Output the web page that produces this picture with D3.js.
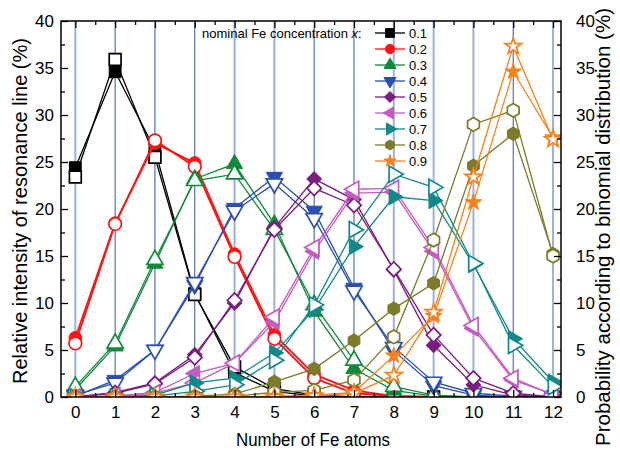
<!DOCTYPE html>
<html><head><meta charset="utf-8">
<script src="https://cdn.jsdelivr.net/npm/d3@7"></script>
<style>body{margin:0;background:#fff} text{font-family:"Liberation Sans",Arial,sans-serif;}</style>
</head><body>
<svg id="c" width="620" height="454"></svg>
<script>
// ---------- data ----------
const atoms = [0,1,2,3,4,5,6,7,8,9,10,11,12];
const concentrations = ["0.1","0.2","0.3","0.4","0.5","0.6","0.7","0.8","0.9"];
// experimental (filled symbols, left axis)
const exp01 = [24.4, 34.6, 26.3, 11.0, 2.6, 0.6, 0.1, 0, 0, 0, 0, 0, 0];
const exp02 = [6.3, 18.5, 27.0, 24.9, 15.2, 6.6, 2.4, 0.7, 0.1, 0, 0, 0, 0];
const exp03 = [0.8, 5.4, 14.2, 23.2, 24.8, 18.4, 9.1, 3.0, 0.7, 0.1, 0, 0, 0];
const exp04 = [0.1, 1.8, 5.0, 11.9, 20.1, 23.4, 19.8, 11.6, 4.9, 1.2, 0.2, 0, 0];
const exp05 = [0, 0.5, 1.5, 4.5, 10.0, 18.0, 23.2, 21.0, 13.5, 5.5, 1.3, 0.2, 0];
const exp06 = [0, 0.1, 0.5, 2.5, 3.6, 8.0, 15.5, 21.7, 21.8, 15.5, 7.3, 1.8, 0.3];
const exp07 = [0, 0, 0.2, 1.5, 2.0, 4.7, 9.3, 16.0, 21.3, 20.9, 14.1, 6.2, 1.6];
const exp08 = [0, 0, 0, 0.1, 0.3, 1.6, 3.0, 6.0, 9.4, 12.1, 24.6, 28.0, 15.2];
const exp09 = [0, 0, 0, 0, 0, 0.1, 0.2, 0.5, 4.4, 8.6, 20.7, 34.6, 27.6];
// binomial probability (open symbols, right axis)
const bin01 = [23.4, 35.9, 25.5, 10.9, 3.2, 0.9, 0.2, 0, 0, 0, 0, 0, 0];
const bin02 = [5.7, 18.4, 27.3, 24.5, 14.9, 6.2, 2.0, 0.4, 0.1, 0, 0, 0, 0];
const bin03 = [1.1, 5.7, 14.6, 23.0, 23.7, 17.8, 9.8, 3.9, 1.1, 0.2, 0, 0, 0];
const bin04 = [0.2, 1.5, 5.0, 12.2, 19.8, 22.7, 19.0, 11.3, 5.3, 1.6, 0.4, 0.1, 0];
const bin05 = [0, 0.4, 1.4, 4.2, 10.3, 17.8, 22.2, 20.4, 13.6, 6.6, 2.0, 0.4, 0];
const bin06 = [0, 0.1, 0.4, 1.5, 3.6, 8.5, 15.9, 22.1, 22.2, 15.9, 7.6, 2.0, 0.2];
const bin07 = [0, 0, 0.1, 0.6, 1.3, 3.9, 9.8, 17.8, 23.7, 22.3, 14.2, 5.5, 1.1];
const bin08 = [0, 0, 0, 0, 0.1, 0.5, 0.7, 1.8, 6.4, 16.7, 29.0, 30.5, 15.0];
const bin09 = [0, 0, 0, 0, 0, 0, 0.1, 0.4, 2.3, 9.0, 23.4, 37.3, 27.4];
const xTickLabels = ["0","1","2","3","4","5","6","7","8","9","10","11","12"];
const yTickValues = [0,5,10,15,20,25,30,35,40];

const expSeries = [exp01,exp02,exp03,exp04,exp05,exp06,exp07,exp08,exp09];
const binSeries = [bin01,bin02,bin03,bin04,bin05,bin06,bin07,bin08,bin09];

// ---------- style ----------
const colors = ["#000000","#ff1414","#12893b","#2b4fb0","#7a1e80","#c45bc0","#11898a","#7b7b2a","#f7821b"];
const lineWidths = [1.3, 1.8, 1.3, 1.3, 1.3, 1.3, 1.3, 1.3, 1.3];
const L = 61, R = 561, T = 21, B = 397;

const svg = d3.select("#c");
const x = d3.scaleLinear().domain([-0.36, 12.2]).range([L, R]);
const yL = d3.scaleLinear().domain([0, 40]).range([B, T]);
const yR = d3.scaleLinear().domain([0, 40]).range([B, T]);

// vertical grid lines (mixed light/dark blue)
const lightLines = new Set([0,4,5,8,9,10,12]);
svg.append("g").selectAll("line").data(atoms).join("line")
  .attr("x1", d => x(d)).attr("x2", d => x(d))
  .attr("y1", B).attr("y2", T)
  .attr("stroke", d => lightLines.has(d) ? "#9fb0dc" : "#34559f")
  .attr("stroke-width", d => lightLines.has(d) ? 2 : 1);

// symbols
const hexagon = { draw(ctx, size) {
  const r = Math.sqrt(2 * size / (3 * Math.sqrt(3)));
  for (let i = 0; i < 6; i++) {
    const a = -Math.PI / 2 + i * Math.PI / 3;
    if (i === 0) ctx.moveTo(r * Math.cos(a), r * Math.sin(a)); else ctx.lineTo(r * Math.cos(a), r * Math.sin(a));
  }
  ctx.closePath();
}};
const markers = [
  {type: d3.symbolSquare, rot: 0, size: 140},
  {type: d3.symbolCircle, rot: 0, size: 125},
  {type: d3.symbolTriangle, rot: 0, size: 115},
  {type: d3.symbolTriangle, rot: 180, size: 115},
  {type: d3.symbolSquare, rot: 45, size: 105},
  {type: d3.symbolTriangle, rot: -90, size: 115},
  {type: d3.symbolTriangle, rot: 90, size: 115},
  {type: hexagon, rot: 0, size: 120},
  {type: d3.symbolStar, rot: 0, size: 85}
];

svg.append("defs").append("clipPath").attr("id", "clip")
  .append("rect").attr("x", L).attr("y", T).attr("width", R - L).attr("height", B - T);

const plot = svg.append("g").attr("clip-path", "url(#clip)");

expSeries.forEach((ev, si) => {
  const bv = binSeries[si];
  const col = colors[si];
  const m = markers[si];
  const sym = d3.symbol().type(m.type).size(m.size);
  const g = plot.append("g");
  const lineE = d3.line().x((d, i) => x(atoms[i])).y(d => yL(d));
  const lineB = d3.line().x((d, i) => x(atoms[i])).y(d => yR(d));
  g.append("path").attr("d", lineE(ev)).attr("fill", "none").attr("stroke", col).attr("stroke-width", lineWidths[si]);
  g.append("path").attr("d", lineB(bv)).attr("fill", "none").attr("stroke", col).attr("stroke-width", lineWidths[si]);
  g.selectAll(".e").data(ev).join("path")
    .attr("d", sym())
    .attr("transform", (d, i) => `translate(${x(atoms[i])},${yL(d)}) rotate(${m.rot})`)
    .attr("fill", col).attr("stroke", col).attr("stroke-width", 1);
  g.selectAll(".b").data(bv).join("path")
    .attr("d", sym())
    .attr("transform", (d, i) => `translate(${x(atoms[i])},${yR(d)}) rotate(${m.rot})`)
    .attr("fill", "#fff").attr("stroke", col).attr("stroke-width", 1.7);
});

// frame
svg.append("rect").attr("x", L).attr("y", T).attr("width", R - L).attr("height", B - T)
  .attr("fill", "none").attr("stroke", "#000").attr("stroke-width", 1.5);

// axes
const fontTick = 17;
const halfTicks = atoms.slice(0, 12).map(d => d + 0.5);
const minorY = yTickValues.slice(0, 8).map(d => d + 2.5);

function styleAxis(g) {
  g.select(".domain").remove();
  g.selectAll("line").attr("stroke", "#000").attr("stroke-width", 1.3);
  g.selectAll("text").attr("font-size", fontTick).attr("fill", "#000")
    .style("font-family", '"Liberation Sans",Arial,sans-serif');
}
svg.append("g").attr("transform", `translate(0,${B})`)
  .call(d3.axisBottom(x).tickValues(atoms).tickFormat((d, i) => xTickLabels[i]).tickSize(-7).tickPadding(9)).call(styleAxis);
svg.append("g").attr("transform", `translate(0,${B})`)
  .call(d3.axisBottom(x).tickValues(halfTicks).tickFormat("").tickSize(-4)).call(styleAxis);
svg.append("g").attr("transform", `translate(0,${T})`)
  .call(d3.axisTop(x).tickValues(atoms).tickFormat("").tickSize(-7)).call(styleAxis);
svg.append("g").attr("transform", `translate(0,${T})`)
  .call(d3.axisTop(x).tickValues(halfTicks).tickFormat("").tickSize(-4)).call(styleAxis);
svg.append("g").attr("transform", `translate(${L},0)`)
  .call(d3.axisLeft(yL).tickValues(yTickValues).tickFormat(d3.format("d")).tickSize(-7).tickPadding(7)).call(styleAxis);
svg.append("g").attr("transform", `translate(${L},0)`)
  .call(d3.axisLeft(yL).tickValues(minorY).tickFormat("").tickSize(-4)).call(styleAxis);
svg.append("g").attr("transform", `translate(${R},0)`)
  .call(d3.axisRight(yR).tickValues(yTickValues).tickFormat(d3.format("d")).tickSize(-7).tickPadding(15)).call(styleAxis);
svg.append("g").attr("transform", `translate(${R},0)`)
  .call(d3.axisRight(yR).tickValues(minorY).tickFormat("").tickSize(-4)).call(styleAxis);

// titles
const fontTitle = 19.5;
svg.append("text").attr("x", 313).attr("y", 446).attr("text-anchor", "middle")
  .attr("font-size", 18).attr("textLength", 154).attr("lengthAdjust", "spacingAndGlyphs")
  .text("Number of Fe atoms");
svg.append("text").attr("transform", `translate(27,211) rotate(-90)`).attr("text-anchor", "middle")
  .attr("font-size", fontTitle).attr("textLength", 346).attr("lengthAdjust", "spacingAndGlyphs")
  .text("Relative intensity of resonance line (%)");
svg.append("text").attr("transform", `translate(610,227) rotate(-90)`).attr("text-anchor", "middle")
  .attr("font-size", fontTitle).attr("textLength", 438).attr("lengthAdjust", "spacingAndGlyphs")
  .text("Probability according to binomial distribution (%)");

// legend
const lt = svg.append("text").attr("x", 202).attr("y", 37.5).attr("font-size", 13);
lt.append("tspan").text("nominal Fe concentration ");
lt.append("tspan").attr("font-style", "italic").text("x");
lt.append("tspan").text(":");
concentrations.forEach((c, i) => {
  const yy = 33 + 16 * i;
  const m = markers[i];
  svg.append("line").attr("x1", 375).attr("x2", 405).attr("y1", yy).attr("y2", yy)
    .attr("stroke", colors[i]).attr("stroke-width", 1.3);
  svg.append("path").attr("d", d3.symbol().type(m.type).size(m.size * 0.55)())
    .attr("transform", `translate(390,${yy}) rotate(${m.rot})`)
    .attr("fill", colors[i]).attr("stroke", colors[i]);
  svg.append("text").attr("x", 409).attr("y", yy + 4.8).attr("font-size", 13).text(c);
});
</script>
</body></html>
